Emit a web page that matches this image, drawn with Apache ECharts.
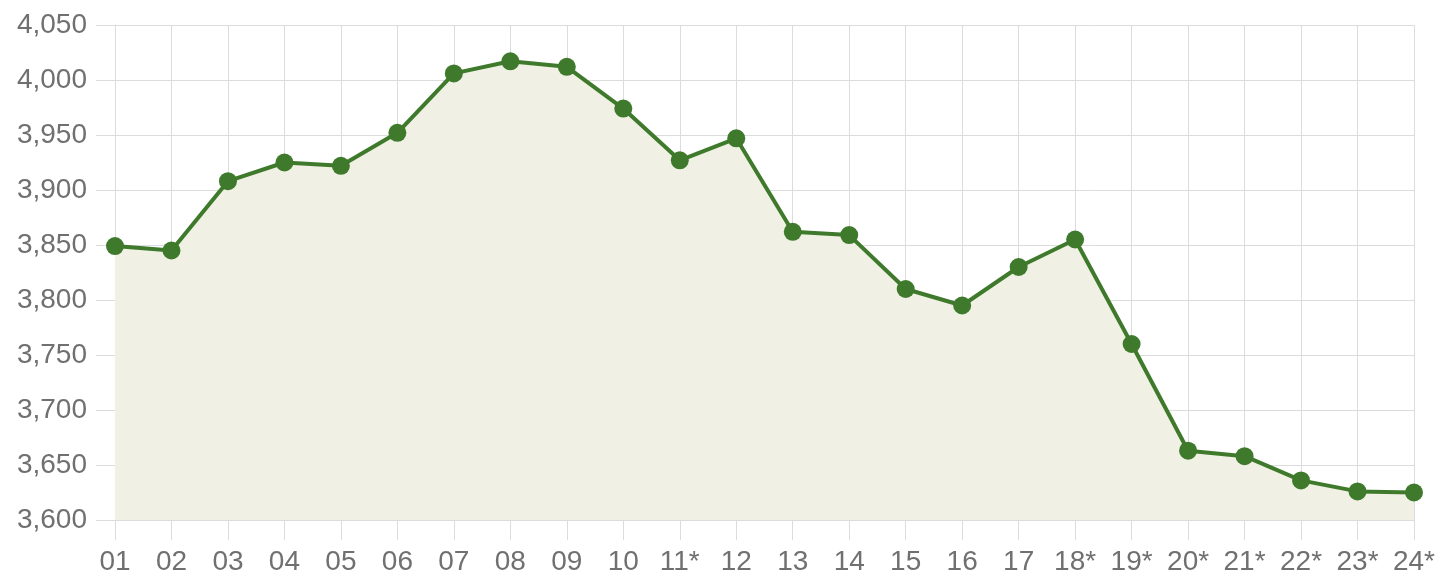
<!DOCTYPE html>
<html>
<head>
<meta charset="utf-8">
<script src="https://cdn.jsdelivr.net/npm/echarts@6/dist/echarts.min.js"></script>
<style>
  html, body { margin: 0; padding: 0; background: #fff; }
  #chart { width: 1441px; height: 577px; }
</style>
</head>
<body>
<div id="chart"></div>
<script>
// categories and values
const categories = ['01', '02', '03', '04', '05', '06', '07', '08', '09', '10', '11*', '12',
  '13', '14', '15', '16', '17', '18*', '19*', '20*', '21*', '22*', '23*', '24*'];
const values = [3849, 3845, 3908, 3925, 3922, 3952, 4006, 4017, 4012, 3974, 3927, 3947,
  3862, 3859, 3810, 3795, 3830, 3855, 3760, 3663, 3658, 3636, 3626, 3625];
const yMin = 3600, yMax = 4050, yStep = 50;

const chart = echarts.init(document.getElementById('chart'));
const gridColor = '#dcdcdc';
const labelStyle = { color: '#707070', fontSize: 28, fontFamily: 'Liberation Sans, Arial, sans-serif' };

chart.setOption({
  animation: false,
  grid: { left: 115, right: 27, top: 25, bottom: 57 },
  xAxis: {
    type: 'category',
    data: categories,
    boundaryGap: false,
    axisLine: { show: true, lineStyle: { color: gridColor, width: 1 } },
    axisTick: { show: true, inside: false, length: 20, lineStyle: { color: gridColor, width: 1 } },
    splitLine: { show: true, lineStyle: { color: gridColor, width: 1 } },
    axisLabel: Object.assign({ margin: 28, interval: 0 }, labelStyle)
  },
  yAxis: {
    type: 'value',
    min: yMin, max: yMax, interval: yStep,
    axisLine: { show: true, lineStyle: { color: gridColor, width: 1 } },
    axisTick: { show: true, inside: false, length: 19, lineStyle: { color: gridColor, width: 1 } },
    splitLine: { show: true, lineStyle: { color: gridColor, width: 1 } },
    axisLabel: Object.assign({ margin: 28, formatter: v => v.toLocaleString('en-US') }, labelStyle)
  },
  series: [{
    type: 'line',
    data: values,
    symbol: 'circle',
    symbolSize: 18,
    lineStyle: { color: '#3f7a2c', width: 4 },
    itemStyle: { color: '#3f7a2c' },
    areaStyle: { color: '#f0f1e4', opacity: 1 }
  }]
});
</script>
</body>
</html>
